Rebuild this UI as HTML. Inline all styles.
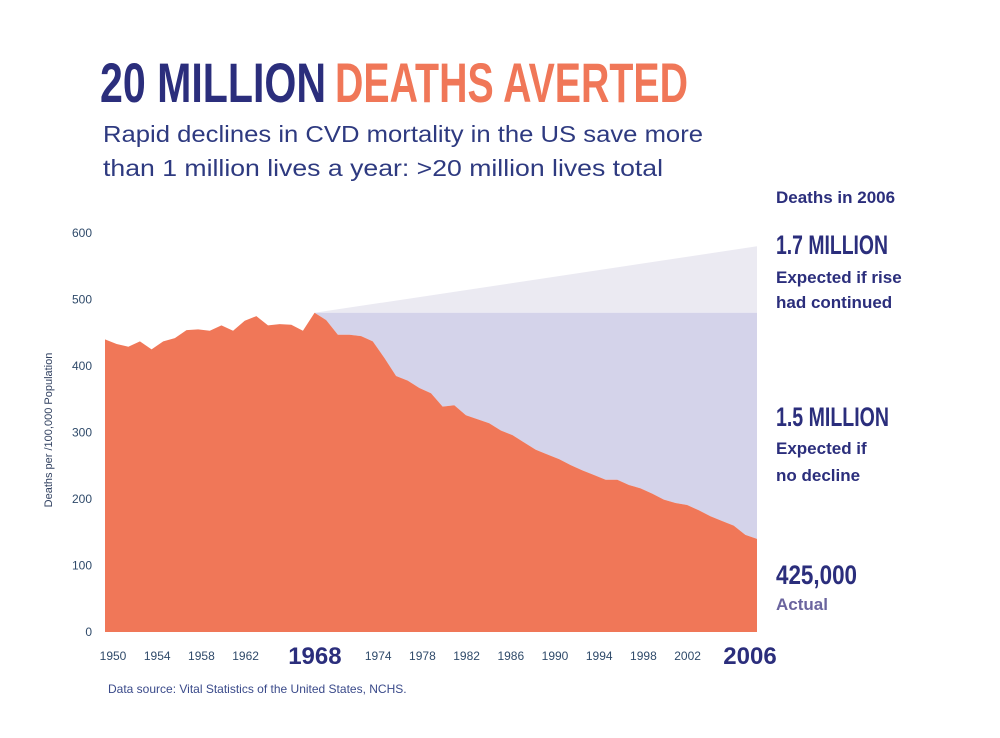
<!DOCTYPE html>
<html><head><meta charset="utf-8"><style>
html,body{margin:0;padding:0;background:#fff}
svg{display:block}
text{font-family:"Liberation Sans",sans-serif}
.cond{font-family:"Liberation Sans Narrow","Liberation Sans",sans-serif;font-weight:bold}
</style></head><body>
<svg id="chart" width="1000" height="738" viewBox="0 0 1000 738">
<text class="cond" x="100" y="102" font-size="56" fill="#2b2e7c" textLength="226" lengthAdjust="spacingAndGlyphs">20 MILLION</text>
<text class="cond" x="335" y="102" font-size="56" fill="#f07758" textLength="353" lengthAdjust="spacingAndGlyphs">DEATHS AVERTED</text>
<text x="103" y="142" font-size="23" fill="#2e3a80" textLength="600" lengthAdjust="spacingAndGlyphs">Rapid declines in CVD mortality in the US save more</text>
<text x="103" y="176" font-size="23" fill="#2e3a80" textLength="560" lengthAdjust="spacingAndGlyphs">than 1 million lives a year:  &gt;20 million lives total</text>
<g id="plot"></g>
<g id="axes"></g>
<text x="52" y="430" font-size="11" fill="#2f3f5f" transform="rotate(-90 52 430)" text-anchor="middle">Deaths per /100,000 Population</text>
<g fill="#2b2e7c" font-weight="bold">
<text x="776" y="203" font-size="17">Deaths in 2006</text>
<text class="cond" x="776" y="254" font-size="27" textLength="112" lengthAdjust="spacingAndGlyphs">1.7 MILLION</text>
<text x="776" y="283" font-size="17">Expected if rise</text>
<text x="776" y="308" font-size="17">had continued</text>
<text class="cond" x="776" y="426" font-size="27" textLength="113" lengthAdjust="spacingAndGlyphs">1.5 MILLION</text>
<text x="776" y="454" font-size="17">Expected if</text>
<text x="776" y="481" font-size="17">no decline</text>
<text class="cond" x="776" y="584" font-size="27" textLength="81" lengthAdjust="spacingAndGlyphs">425,000</text>
<text x="776" y="610" font-size="17" fill="#6a649e">Actual</text>
</g>
<text x="108" y="693" font-size="12" fill="#3a4a8a">Data source: Vital Statistics of the United States, NCHS.</text>
</svg>
<script>
const years = [];
for (let y = 1950; y <= 2006; y++) years.push(y);
const deathRates = [440,433,429,437,425,437,442,454,455,453,461,453,468,475,461,463,462,453,
480,469,447,447,445,437,412,385,378,367,359,339,341,326,320,314,303,296,285,274,267,260,251,243,236,229,229,221,216,208,199,194,191,183,174,167,160,146,140];
const peakYear = 1968;
const riseContinuedValue = 580;
const yTicks = [0,100,200,300,400,500,600];
const xTickYears = [1950,1954,1958,1962,1974,1978,1982,1986,1990,1994,1998,2002];
const xBigYears = [1968,2006];

const NS = "http://www.w3.org/2000/svg";
const X0 = 105, X1 = 757, Y0 = 632, PX = 0.665;
const x = yr => X0 + (yr - years[0]) * (X1 - X0) / (years[years.length-1] - years[0]);
const y = v => Y0 - v * PX;
const labelX = yr => 113 + (yr - 1950) * 11.05;
function mk(tag, attrs, parent){const e=document.createElementNS(NS,tag);for(const k in attrs)e.setAttribute(k,attrs[k]);parent.appendChild(e);return e;}
const plot = document.getElementById('plot');
const axes = document.getElementById('axes');
const pi = years.indexOf(peakYear);
const peakV = deathRates[pi];
const lastYr = years[years.length-1];

// rise-continued triangle
let tri = mk('polygon', {points:`${x(peakYear)},${y(peakV)} ${x(lastYr)},${y(riseContinuedValue)} ${x(lastYr)},${y(peakV)}`, fill:'#ebeaf2'}, plot);



// no-decline area
let pts = [`${x(peakYear)},${y(peakV)}`, `${x(lastYr)},${y(peakV)}`];
for (let i = years.length-1; i >= pi; i--) pts.push(`${x(years[i])},${y(deathRates[i])}`);
let nd = mk('polygon', {points:pts.join(' '), fill:'#d4d3ea'}, plot);



// actual area
let ap = [`${x(years[0])},${Y0}`];
years.forEach((yr,i)=>ap.push(`${x(yr)},${y(deathRates[i])}`));
ap.push(`${x(lastYr)},${Y0}`);
let act = mk('polygon', {points:ap.join(' '), fill:'#f07758'}, plot);



yTicks.forEach(v=>{
  const t = mk('text', {x:92, y:y(v)+4, 'font-size':12, fill:'#2f4a6a', 'text-anchor':'end'}, axes);
  t.textContent = v;
  
  
});
xTickYears.forEach(yr=>{
  const t = mk('text', {x:labelX(yr), y:660, 'font-size':12, fill:'#2f4a6a', 'text-anchor':'middle'}, axes);
  t.textContent = yr;
  
  
});
xBigYears.forEach((yr,i)=>{
  const cx = i===0 ? labelX(yr)+3 : x(yr)-7;
  const t = mk('text', {x:cx, y:664, 'font-size':24, 'font-weight':'bold', fill:'#2b2e7c', 'text-anchor':'middle'}, axes);
  t.textContent = yr;
  
  
});
</script>
</body></html>
